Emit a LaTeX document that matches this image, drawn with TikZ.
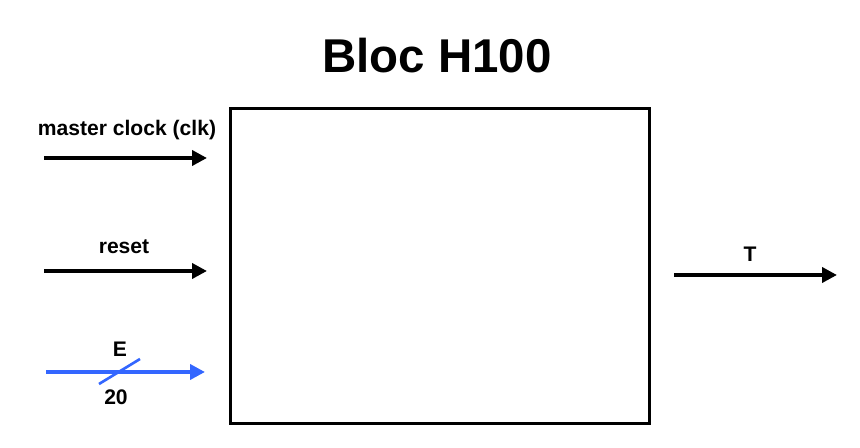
\documentclass[tikz,border=0pt]{standalone}
\usepackage{fontspec}
\setmainfont{Liberation Sans}
\usetikzlibrary{arrows.meta}
\definecolor{busblue}{RGB}{51,102,255}

\begin{document}
\begin{tikzpicture}[x=0.02cm, y=-0.02cm, >={Triangle[length=8.5pt,width=8.5pt]},
    sig/.style={->, line width=2.3pt},
    lbl/.style={font=\bfseries\fontsize{12}{14}\selectfont, inner sep=0pt}]
    \useasboundingbox (0,0) rectangle (860,448);
    \node[font=\bfseries\fontsize{27}{32}\selectfont, inner sep=0pt] (title) at (437,56) {Bloc H100};
    \node[draw, line width=1.7pt, minimum width=8.4cm, minimum height=6.32cm, inner sep=0pt] (bloc) at (440,266) {};
    % entrees
    \coordinate (clk a) at (44,158);  \coordinate (clk b) at (207,158);
    \draw[sig] (clk a) -- (clk b);
    \node[lbl] (clk lbl) at (127,130) {master clock (clk)};
    \coordinate (rst a) at (44,271);  \coordinate (rst b) at (207,271);
    \draw[sig] (rst a) -- (rst b);
    \node[lbl] (rst lbl) at (124,247) {reset};
    \coordinate (e a) at (46,372);  \coordinate (e b) at (205,372);
    \draw[sig, busblue] (e a) -- (e b);
    \coordinate (bus a) at (99,384);  \coordinate (bus b) at (140,359);
    \draw[busblue, line width=1.5pt] (bus a) -- (bus b);
    \node[lbl] (e lbl) at (120,349) {E};
    \node[lbl] (bus lbl) at (116,397) {20};
    % sortie
    \coordinate (t a) at (674,275);  \coordinate (t b) at (837,275);
    \draw[sig] (t a) -- (t b);
    \node[lbl] (t lbl) at (750,254) {T};
\end{tikzpicture}
\end{document}
